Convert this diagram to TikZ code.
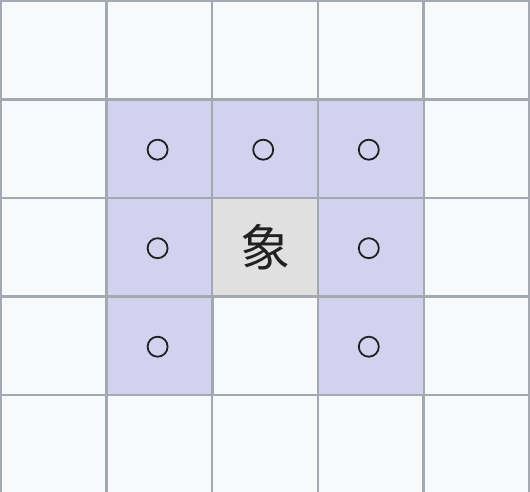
\documentclass[tikz,border=0pt]{standalone}
\usepackage{fontspec}
\newfontfamily\cjk{Noto Sans CJK SC}
\definecolor{gridline}{HTML}{A2A9B1}
\definecolor{cellbg}{HTML}{F8F9FA}
\definecolor{lav}{HTML}{D2D2EF}
\definecolor{ctr}{HTML}{E0E0E0}
\definecolor{ink}{HTML}{202122}
\begin{document}
\begin{tikzpicture}[x=1pt,y=-1pt,
  cell/.style={draw=gridline,line width=2.3pt,fill=cellbg,minimum width=106pt,minimum height=98.5pt,inner sep=0pt,outer sep=0pt,anchor=center},
  move/.style={cell,fill=lav},
  piece/.style={cell,fill=ctr,font=\cjk\fontsize{50}{50}\selectfont,text=ink},
  dot/.style={circle,draw=ink,line width=1.8pt,minimum size=20pt,inner sep=0pt}]
\useasboundingbox (0,0) rectangle (530,492);
\fill[cellbg] (0,0) rectangle (530,492);
\foreach \i in {0,...,4}{
  \foreach \j in {0,...,4}{
    \node[cell] (c\i\j) at ({1+53+105.6*\i},{1+49.2+98.5*\j}) {};
  }
}
\node[move] (m11) at (c11) {};
\node[move] (m21) at (c21) {};
\node[move] (m31) at (c31) {};
\node[move] (m12) at (c12) {};
\node[move] (m32) at (c32) {};
\node[move] (m13) at (c13) {};
\node[move] (m33) at (c33) {};
\node[piece] (p22) at (c22) {象};
\node[dot] (d11) at ([shift={(-2,1)}]m11.center) {};
\node[dot] (d21) at ([shift={(-2,1)}]m21.center) {};
\node[dot] (d31) at ([shift={(-2,1)}]m31.center) {};
\node[dot] (d12) at ([shift={(-2,1)}]m12.center) {};
\node[dot] (d32) at ([shift={(-2,1)}]m32.center) {};
\node[dot] (d13) at ([shift={(-2,1)}]m13.center) {};
\node[dot] (d33) at ([shift={(-2,1)}]m33.center) {};
\end{tikzpicture}
\end{document}
